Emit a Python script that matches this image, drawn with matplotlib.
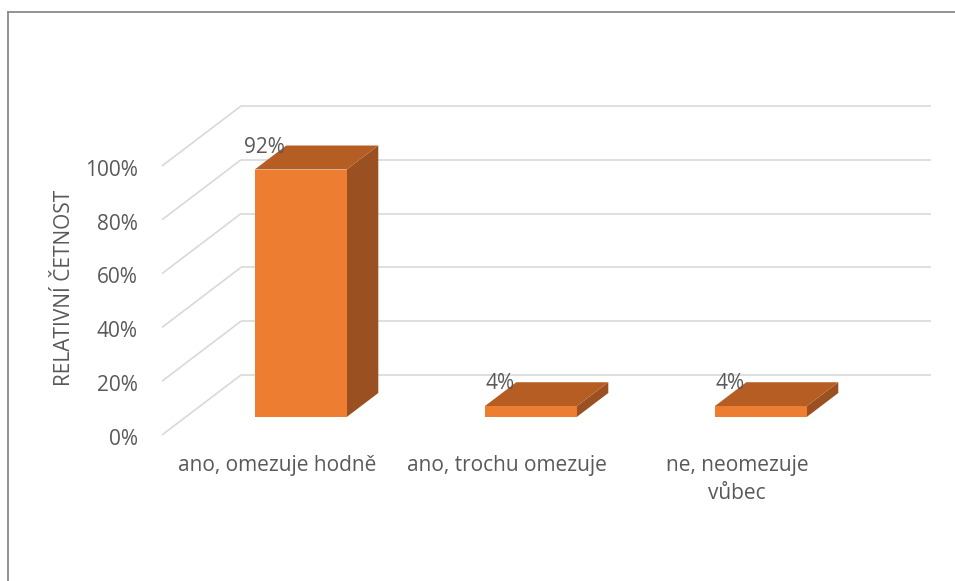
import matplotlib.pyplot as plt
from matplotlib.patches import Polygon
from matplotlib.lines import Line2D

categories = ["ano, omezuje hodně", "ano, trochu omezuje", "ne, neomezuje\nvůbec"]
values = [92, 4, 4]
y_ticks = [0, 20, 40, 60, 80, 100]
y_tick_labels = ["0%", "20%", "40%", "60%", "80%", "100%"]

FRONT = "#ED7D31"
TOP = "#B55D22"
SIDE = "#9A5020"
GRID = "#D9D9D9"
TEXT = "#595959"
FS = 15

plt.rcParams["font.family"] = ["Open Sans", "DejaVu Sans"]

# oblique offset of the back wall in data units
DEPTH_X = 0.3435
DEPTH_Y = 22.3
BAR_W = 0.4
BAR_D0, BAR_D1 = 0.3, 0.7  # bar position inside the depth

fig = plt.figure(figsize=(9.55, 5.81), dpi=100)
ax = fig.add_axes([0, 0, 1, 1])
ax.set_xlim(-1.2043, 2.9478)
ax.set_ylim(-54.28, 161.7)
ax.axis("off")

x0, x1 = -0.5, len(categories) - 0.5

# side wall diagonals and back wall grid
for t, lab in zip(y_ticks, y_tick_labels):
    ax.plot([x0, x0 + DEPTH_X], [t, t + DEPTH_Y], color=GRID, lw=1.2,
            solid_capstyle="butt", zorder=1)
    ax.plot([x0 + DEPTH_X, x1 + DEPTH_X], [t + DEPTH_Y, t + DEPTH_Y],
            color=GRID, lw=1.2, solid_capstyle="butt", zorder=1)
    ax.text(x0 - 0.105, t - 1.6, lab, ha="right", va="center",
            fontsize=FS, color=TEXT)

# 3d columns
for i, v in enumerate(values):
    fx0 = i - BAR_W / 2 + BAR_D0 * DEPTH_X
    fx1 = fx0 + BAR_W
    fy0 = BAR_D0 * DEPTH_Y
    fy1 = fy0 + v
    dx = (BAR_D1 - BAR_D0) * DEPTH_X
    dy = (BAR_D1 - BAR_D0) * DEPTH_Y
    side = [(fx1, fy0), (fx1 + dx, fy0 + dy), (fx1 + dx, fy1 + dy), (fx1, fy1)]
    top = [(fx0, fy1), (fx1, fy1), (fx1 + dx, fy1 + dy), (fx0 + dx, fy1 + dy)]
    front = [(fx0, fy0), (fx1, fy0), (fx1, fy1), (fx0, fy1)]
    ax.add_patch(Polygon(side, closed=True, facecolor=SIDE, edgecolor="none", zorder=3))
    ax.add_patch(Polygon(top, closed=True, facecolor=TOP, edgecolor="none", zorder=3))
    ax.add_patch(Polygon(front, closed=True, facecolor=FRONT, edgecolor="none", zorder=4))
    ax.text(fx0 + 0.13, fy1 + dy - 0.6, f"{v}%", ha="right", va="center",
            fontsize=FS, color=TEXT, zorder=5)

# category labels under the floor
for i, c in enumerate(categories):
    ax.text(i, -7.5, c, ha="center", va="top", fontsize=FS, color=TEXT,
            linespacing=1.4)

ax.text(-0.922, 54.5, "RELATIVNÍ ČETNOST", rotation=90,
        ha="center", va="center", fontsize=FS, color=TEXT)

# chart frame (top and left edges)
fig.add_artist(Line2D([7.5 / 955, 1], [1 - 12 / 581, 1 - 12 / 581],
                      color="#8A8A8A", lw=1.3, transform=fig.transFigure))
fig.add_artist(Line2D([7.5 / 955, 7.5 / 955], [0, 1 - 12 / 581],
                      color="#8A8A8A", lw=1.3, transform=fig.transFigure))

fig.savefig("out.png", dpi=100)
